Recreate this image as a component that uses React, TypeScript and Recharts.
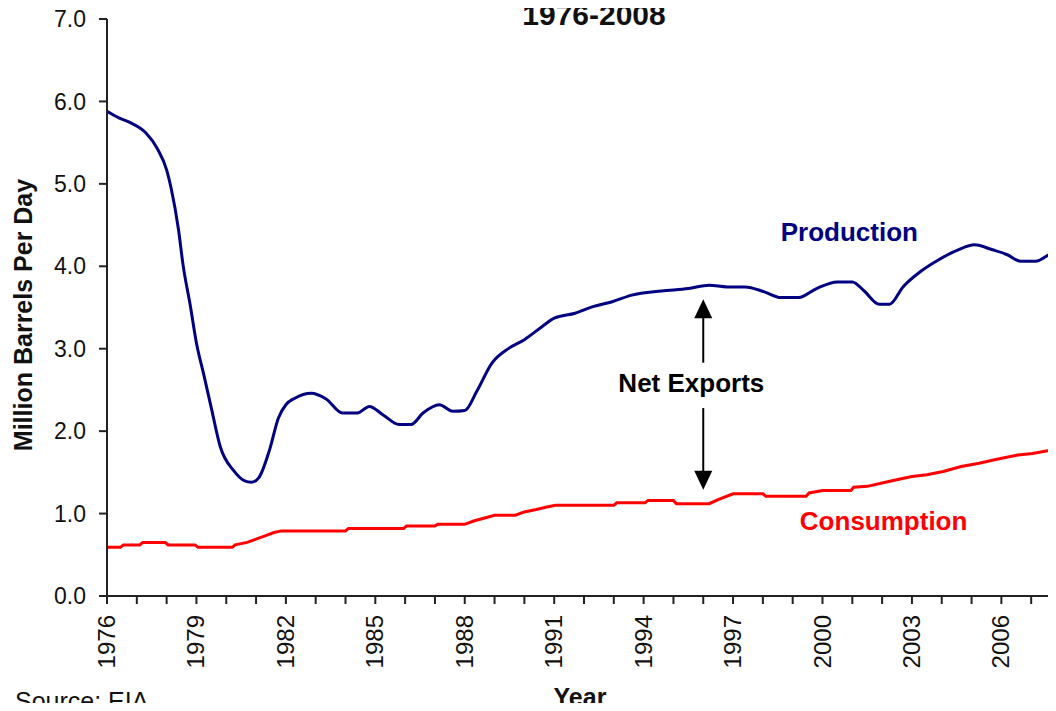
import React from "react";
import { LineChart, Line, XAxis, YAxis, ReferenceLine, ReferenceDot } from "recharts";

// production, million barrels per day
const prodYears = [
  1976.0, 1976.4, 1976.8, 1977.3, 1977.7, 1978.0, 1978.15, 1978.4, 1978.55, 1978.8,
  1979.0, 1979.25, 1979.5, 1979.8, 1980.25, 1980.6, 1980.85, 1981.1, 1981.45, 1981.75,
  1982.0, 1982.3, 1982.85, 1983.35, 1983.9, 1984.4, 1984.8, 1985.25, 1985.8, 1986.2,
  1986.6, 1987.15, 1987.6, 1988.0, 1988.4, 1988.9, 1989.5, 1990.0, 1990.6, 1991.0,
  1991.7, 1992.3, 1992.95, 1993.6, 1994.6, 1995.5, 1996.2, 1996.8, 1997.4, 1998.05,
  1998.6, 1999.2, 1999.8, 2000.5, 2001.0, 2001.4, 2001.9, 2002.25, 2002.7, 2003.3,
  2003.9, 2004.55, 2005.1, 2005.7, 2006.2, 2006.65, 2007.15, 2007.6, 2008.0,
];
const prodValues = [
  5.88, 5.8, 5.74, 5.62, 5.42, 5.17, 4.95, 4.44, 4.02, 3.51,
  3.07, 2.68, 2.28, 1.81, 1.52, 1.4, 1.38, 1.44, 1.77, 2.16,
  2.32, 2.4, 2.46, 2.39, 2.22, 2.22, 2.3, 2.2, 2.08, 2.08,
  2.22, 2.32, 2.24, 2.25, 2.48, 2.82, 3.01, 3.11, 3.27, 3.37,
  3.43, 3.51, 3.57, 3.65, 3.7, 3.73, 3.77, 3.75, 3.75, 3.69,
  3.62, 3.62, 3.73, 3.81, 3.81, 3.7, 3.54, 3.54, 3.75, 3.94,
  4.08, 4.2, 4.26, 4.2, 4.14, 4.06, 4.06, 4.14, 4.2,
];

// consumption, million barrels per day
const consYears = [
  1976.0, 1976.45, 1976.55, 1977.1, 1977.2, 1977.95, 1978.05, 1978.95, 1979.05, 1980.2,
  1980.3, 1980.7, 1981.0, 1981.3, 1981.6, 1981.85, 1984.0, 1984.1, 1985.95, 1986.05,
  1987.0, 1987.1, 1988.0, 1988.3, 1988.7, 1989.0, 1989.7, 1990.0, 1990.4, 1990.75,
  1991.05, 1993.0, 1993.1, 1994.05, 1994.15, 1995.0, 1995.1, 1996.2, 1996.5, 1997.0,
  1998.0, 1998.1, 1999.45, 1999.55, 2000.0, 2000.95, 2001.05, 2001.5, 2002.0, 2002.6,
  2003.0, 2003.5, 2004.05, 2004.65, 2005.25, 2005.85, 2006.55, 2007.05, 2007.5, 2008.0,
];
const consValues = [
  0.59, 0.59, 0.62, 0.62, 0.65, 0.65, 0.62, 0.62, 0.59, 0.59,
  0.62, 0.65, 0.69, 0.73, 0.77, 0.79, 0.79, 0.82, 0.82, 0.85,
  0.85, 0.87, 0.87, 0.91, 0.95, 0.98, 0.98, 1.02, 1.05, 1.08,
  1.1, 1.1, 1.13, 1.13, 1.16, 1.16, 1.12, 1.12, 1.17, 1.24,
  1.24, 1.21, 1.21, 1.25, 1.28, 1.28, 1.32, 1.33, 1.37, 1.42,
  1.45, 1.47, 1.51, 1.57, 1.61, 1.66, 1.71, 1.73, 1.76, 1.78,
];

const tickYears = Array.from({ length: 33 }, (_, i) => 1976 + i);
const labelYears = [1976, 1979, 1982, 1985, 1988, 1991, 1994, 1997, 2000, 2003, 2006];
const yTicks = [0, 1, 2, 3, 4, 5, 6, 7];

const production = prodYears.map((year, i) => ({ year, value: prodValues[i] }));
const consumption = consYears.map((year, i) => ({ year, value: consValues[i] }));

const FONT = "'Liberation Sans', Arial, sans-serif";

const YearTick = (props: any) => {
  const { x, payload } = props;
  if (!labelYears.includes(payload.value)) return null;
  return (
    <text
      transform={`translate(${x + 8},615) rotate(-90)`}
      textAnchor="end"
      fontSize={24}
      fontFamily={FONT}
      fill="#111"
    >
      {payload.value}
    </text>
  );
};

const Arrow = (props: any) => {
  const { x1, y1, x2, y2 } = props;
  const dir = y2 > y1 ? 1 : -1;
  return (
    <g>
      <line x1={x1} y1={y1} x2={x2} y2={y2 - dir * 16} stroke="#000" strokeWidth={2} />
      <polygon points={`${x2},${y2} ${x2 - 9},${y2 - dir * 19} ${x2 + 9},${y2 - dir * 19}`} fill="#000" />
    </g>
  );
};

const note = (text: string, color: string) => (p: any) => (
  <text x={p.cx} y={p.cy} textAnchor="middle" fontSize={26} fontWeight="bold" fontFamily={FONT} fill={color}>
    {text}
  </text>
);

export default function App() {
  return (
    <div style={{ position: "relative", margin: -8, width: 1056, height: 711, overflow: "hidden", background: "#fff" }}>
      <LineChart width={1070} height={711} margin={{ top: 19, right: 9, bottom: 0, left: 0 }}>
        <XAxis
          dataKey="year"
          type="number"
          domain={[1976, 2008]}
          ticks={tickYears}
          interval={0}
          tick={<YearTick />}
          tickSize={8}
          tickMargin={0}
          height={115}
          axisLine={{ stroke: "#222", strokeWidth: 2 }}
          tickLine={{ stroke: "#222", strokeWidth: 2 }}
          allowDataOverflow
        />
        <YAxis
          type="number"
          domain={[0, 7]}
          ticks={yTicks}
          interval={0}
          width={107}
          tickSize={8}
          tickMargin={13}
          tickFormatter={(v: number) => v.toFixed(1)}
          tick={{ fontSize: 23, fontFamily: FONT, fill: "#111" }}
          axisLine={{ stroke: "#222", strokeWidth: 2 }}
          tickLine={{ stroke: "#222", strokeWidth: 2 }}
        />
        <Line
          data={production}
          dataKey="value"
          type="monotone"
          stroke="#000080"
          strokeWidth={3}
          dot={false}
          isAnimationActive={false}
        />
        <Line
          data={consumption}
          dataKey="value"
          type="linear"
          stroke="#ff0000"
          strokeWidth={3}
          dot={false}
          isAnimationActive={false}
        />
        <ReferenceLine segment={[{ x: 1996, y: 2.83 }, { x: 1996, y: 3.6 }]} shape={<Arrow />} />
        <ReferenceLine segment={[{ x: 1996, y: 2.28 }, { x: 1996, y: 1.29 }]} shape={<Arrow />} />
        <ReferenceDot x={2000.9} y={4.31} r={0} shape={note("Production", "#000080")} />
        <ReferenceDot x={2002.05} y={0.8} r={0} shape={note("Consumption", "#ff0000")} />
        <ReferenceDot x={1995.6} y={2.47} r={0} shape={note("Net Exports", "#000")} />
      </LineChart>
      <svg width={1056} height={711} style={{ position: "absolute", left: 0, top: 0, pointerEvents: "none" }}>
        <text x={594} y={25} textAnchor="middle" fontSize={30} fontWeight="bold" fontFamily={FONT} fill="#111">
          1976-2008
        </text>
        <text
          transform="translate(32,315) rotate(-90)"
          textAnchor="middle"
          fontSize={25}
          fontWeight="bold"
          fontFamily={FONT}
          fill="#111"
        >
          Million Barrels Per Day
        </text>
        <text x={580} y={706} textAnchor="middle" fontSize={25} fontWeight="bold" fontFamily={FONT} fill="#111">
          Year
        </text>
        <text x={15} y={710} fontSize={25} fontFamily={FONT} fill="#111">
          Source: EIA
        </text>
      </svg>
    </div>
  );
}
